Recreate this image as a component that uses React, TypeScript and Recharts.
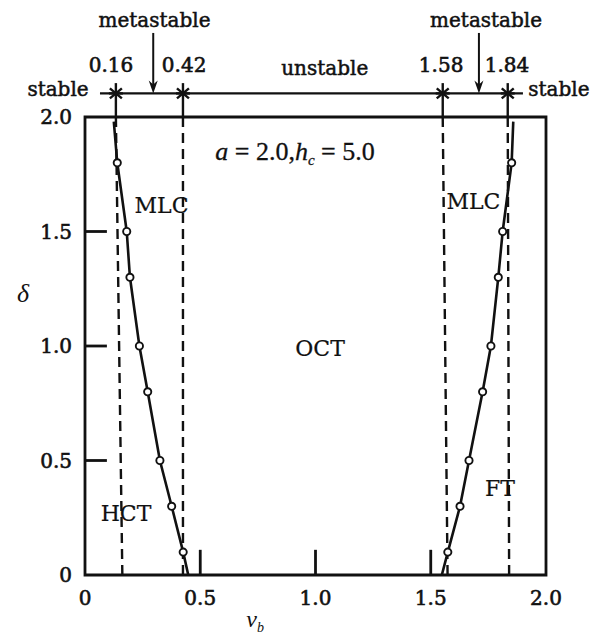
import React from 'react';
import {
  ScatterChart,
  Scatter,
  XAxis,
  YAxis,
  ReferenceLine,
  ReferenceArea,
  ReferenceDot,
} from 'recharts';

// ---------- data ----------
const xTicks = [0, 0.5, 1.0, 1.5, 2.0];
const yTicks = [0, 0.5, 1.0, 1.5, 2.0];
const innerTicks = [0.5, 1.0, 1.5];

// computed (circle) points of the two transition curves
const deltaLevels = [1.8, 1.5, 1.3, 1.0, 0.8, 0.5, 0.3, 0.1];
const leftVb = [0.14, 0.181, 0.195, 0.236, 0.272, 0.325, 0.376, 0.426];
const rightVb = [1.851, 1.812, 1.793, 1.761, 1.725, 1.666, 1.627, 1.574];
// curve ends (no marker): [vb, delta]
const leftTopEnd = [0.125, 1.98];
const leftBottomEnd = [0.448, 0];
const rightTopEnd = [1.858, 1.98];
const rightBottomEnd = [1.548, 0];

// stability boundaries (as drawn, top and bottom of each dashed line)
const boundaryLabels = ['0.16', '0.42', '1.58', '1.84'];
const boundaryTopX = [0.134, 0.425, 1.552, 1.834];
const boundaryBottomX = [0.162, 0.425, 1.573, 1.84];
const boundaryLabelX = [0.113, 0.43, 1.545, 1.831];

// top band annotation
const bandY = 2.103;
const bandStart = 0.065;
const bandEnd = 1.9;
const markTop = 2.148;
const metastableArrowX = [0.296, 1.709];
const arrowTop = 2.367;

const topTexts = [
  { t: 'metastable', x: 0.3015, y: 2.394 },
  { t: 'metastable', x: 1.74, y: 2.394 },
  { t: 'unstable', x: 1.04, y: 2.183 },
  { t: 'stable', x: -0.117, y: 2.092 },
  { t: 'stable', x: 2.056, y: 2.09 },
];
const boundaryLabelY = 2.198;

const regionTexts = [
  { t: 'MLC', x: 0.332, y: 1.581 },
  { t: 'MLC', x: 1.685, y: 1.6 },
  { t: 'OCT', x: 1.02, y: 0.956 },
  { t: 'HCT', x: 0.178, y: 0.237 },
  { t: 'FT', x: 1.8, y: 0.345 },
];
const paramPos = { x: 0.911, y: 1.812 };
const yLabelPos = { x: -0.269, y: 1.192 };
const xLabelPos = { x: 0.738, y: -0.227 };

// ---------- derived tables ----------
const leftCurve = [
  { x: leftTopEnd[0], y: leftTopEnd[1], m: false },
  ...deltaLevels.map((d, i) => ({ x: leftVb[i], y: d, m: true })),
  { x: leftBottomEnd[0], y: leftBottomEnd[1], m: false },
];
const rightCurve = [
  { x: rightBottomEnd[0], y: rightBottomEnd[1], m: false },
  ...deltaLevels
    .map((d, i) => ({ x: rightVb[i], y: d, m: true }))
    .reverse(),
  { x: rightTopEnd[0], y: rightTopEnd[1], m: false },
];

const SERIF = 'DejaVu Serif';
const MATH = 'Liberation Serif';
const INK = '#111';

const marker = (p: any) => {
  if (!p.payload || !p.payload.m) return <g />;
  return <circle cx={p.cx} cy={p.cy} r={3.6} fill="#fff" stroke={INK} strokeWidth={1.9} />;
};

const textShape = (t: string, size: number, heavy: number) => (p: any) => (
  <text
    x={p.cx}
    y={p.cy}
    textAnchor="middle"
    fontFamily={SERIF}
    fontSize={size}
    fill={INK}
    stroke={INK}
    strokeWidth={heavy}
  >
    {t}
  </text>
);

const asterisk = (p: any) => (
  <g stroke={INK} strokeWidth={2.4}>
    <line x1={p.cx - 6} y1={p.cy - 5} x2={p.cx + 6} y2={p.cy + 5} />
    <line x1={p.cx - 6} y1={p.cy + 5} x2={p.cx + 6} y2={p.cy - 5} />
    <line x1={p.cx - 7} y1={p.cy} x2={p.cx + 7} y2={p.cy} />
  </g>
);

const arrowShape = (p: any) => {
  const { x1, y1, x2, y2 } = p;
  return (
    <g>
      <line x1={x1} y1={y1} x2={x2} y2={y2 - 6} stroke={INK} strokeWidth={2} />
      <polygon points={`${x2},${y2} ${x2 - 4.5},${y2 - 13} ${x2},${y2 - 9} ${x2 + 4.5},${y2 - 13}`} fill={INK} />
    </g>
  );
};

const fmt = (v: number) => (v === 0 ? '0' : v.toFixed(1));
const tickStyle = { fontFamily: SERIF, fontSize: 20, fill: INK, stroke: INK, strokeWidth: 0.6 };

export default function App() {
  return (
    <div style={{ position: 'absolute', left: 0, top: 0, background: '#fff' }}>
      <ScatterChart width={608} height={639} margin={{ top: 117, right: 62, bottom: 24, left: 25 }}>
        <XAxis
          type="number"
          dataKey="x"
          domain={[0, 2]}
          ticks={xTicks}
          tickFormatter={fmt}
          allowDataOverflow
          axisLine={false}
          tickLine={false}
          tickSize={0}
          tickMargin={16}
          height={40}
          tick={tickStyle}
        />
        <YAxis
          type="number"
          dataKey="y"
          domain={[0, 2]}
          ticks={yTicks}
          tickFormatter={fmt}
          allowDataOverflow
          axisLine={false}
          tickLine={false}
          tickSize={0}
          tickMargin={13}
          width={60}
          tick={tickStyle}
        />

        {/* plot frame */}
        <ReferenceArea x1={0} x2={2} y1={0} y2={2} fill="none" fillOpacity={0} stroke={INK} strokeWidth={2.8} ifOverflow="visible" />

        {/* inner ticks */}
        {innerTicks.map((v) => (
          <ReferenceLine key={'yt' + v} segment={[{ x: 0, y: v }, { x: 0.095, y: v }]} stroke={INK} strokeWidth={2.8} ifOverflow="visible" />
        ))}
        {innerTicks.map((v) => (
          <ReferenceLine key={'xt' + v} segment={[{ x: v, y: 0 }, { x: v, y: 0.11 }]} stroke={INK} strokeWidth={2.8} ifOverflow="visible" />
        ))}

        {/* dashed stability boundaries */}
        {boundaryTopX.map((xt, i) => (
          <ReferenceLine
            key={'db' + i}
            segment={[{ x: xt, y: 2 }, { x: boundaryBottomX[i], y: 0 }]}
            stroke={INK}
            strokeWidth={2.4}
            strokeDasharray="10 6"
            ifOverflow="visible"
          />
        ))}

        {/* top band */}
        <ReferenceLine segment={[{ x: bandStart, y: bandY }, { x: bandEnd, y: bandY }]} stroke={INK} strokeWidth={2.4} ifOverflow="visible" />
        {boundaryTopX.map((xt, i) => (
          <ReferenceLine key={'bv' + i} segment={[{ x: xt, y: markTop }, { x: xt, y: 2 }]} stroke={INK} strokeWidth={2.4} ifOverflow="visible" />
        ))}
        {boundaryTopX.map((xt, i) => (
          <ReferenceDot key={'ast' + i} x={xt} y={bandY} r={0} shape={asterisk} ifOverflow="visible" />
        ))}
        {metastableArrowX.map((xa, i) => (
          <ReferenceLine key={'ar' + i} segment={[{ x: xa, y: arrowTop }, { x: xa, y: bandY }]} shape={arrowShape} ifOverflow="visible" />
        ))}
        {boundaryLabels.map((t, i) => (
          <ReferenceDot key={'bl' + i} x={boundaryLabelX[i]} y={boundaryLabelY} r={0} shape={textShape(t, 20, 0.6)} ifOverflow="visible" />
        ))}
        {topTexts.map((o, i) => (
          <ReferenceDot key={'tt' + i} x={o.x} y={o.y} r={0} shape={textShape(o.t, 20, 0.5)} ifOverflow="visible" />
        ))}

        {/* region labels */}
        {regionTexts.map((o, i) => (
          <ReferenceDot key={'rt' + i} x={o.x} y={o.y} r={0} shape={textShape(o.t, 22, 0.2)} ifOverflow="visible" />
        ))}
        <ReferenceDot
          x={paramPos.x}
          y={paramPos.y}
          r={0}
          ifOverflow="visible"
          shape={(p: any) => (
            <text x={p.cx} y={p.cy} textAnchor="middle" fontFamily={MATH} fontSize={26} fill={INK} stroke={INK} strokeWidth={0.3}>
              <tspan fontStyle="italic">a</tspan>
              <tspan> = 2.0,</tspan>
              <tspan fontStyle="italic">h</tspan>
              <tspan fontStyle="italic" fontSize={15} dy={5}>c</tspan>
              <tspan dy={-5}> = 5.0</tspan>
            </text>
          )}
        />

        {/* axis labels */}
        <ReferenceDot
          x={yLabelPos.x}
          y={yLabelPos.y}
          r={0}
          ifOverflow="visible"
          shape={(p: any) => (
            <text x={p.cx} y={p.cy} textAnchor="middle" fontFamily={MATH} fontStyle="italic" fontSize={26} fill={INK}>
              δ
            </text>
          )}
        />
        <ReferenceDot
          x={xLabelPos.x}
          y={xLabelPos.y}
          r={0}
          ifOverflow="visible"
          shape={(p: any) => (
            <text x={p.cx} y={p.cy} textAnchor="middle" fontFamily={MATH} fontStyle="italic" fontSize={24} fill={INK}>
              v<tspan fontSize={14} dy={5}>b</tspan>
            </text>
          )}
        />

        {/* curves */}
        <Scatter data={leftCurve} line={{ stroke: INK, strokeWidth: 2.6 }} shape={marker} isAnimationActive={false} />
        <Scatter data={rightCurve} line={{ stroke: INK, strokeWidth: 2.6 }} shape={marker} isAnimationActive={false} />
      </ScatterChart>
    </div>
  );
}
